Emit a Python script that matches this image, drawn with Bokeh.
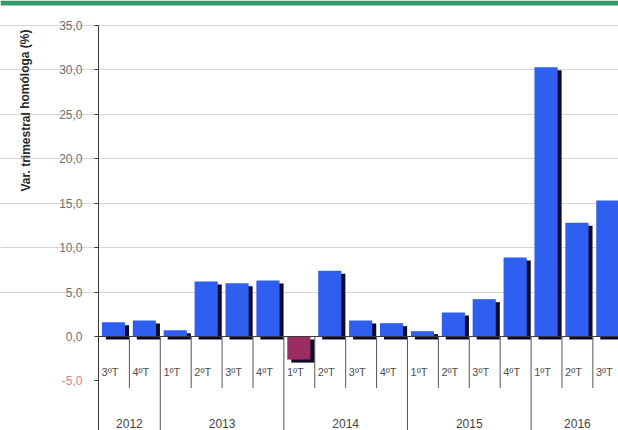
from bokeh.plotting import figure
from bokeh.models import Range1d, FixedTicker, ColumnDataSource, LinearAxis
from bokeh.core.properties import value
from bokeh.embed import file_html
from bokeh.resources import INLINE

# ---- data ----
quarters = ["3ºT", "4ºT", "1ºT", "2ºT", "3ºT", "4ºT", "1ºT", "2ºT", "3ºT", "4ºT",
            "1ºT", "2ºT", "3ºT", "4ºT", "1ºT", "2ºT", "3ºT"]
years = [2012, 2012, 2013, 2013, 2013, 2013, 2014, 2014, 2014, 2014,
         2015, 2015, 2015, 2015, 2016, 2016, 2016]
values = [1.6, 1.8, 0.7, 6.2, 6.0, 6.3, -2.6, 7.4, 1.8, 1.5,
          0.6, 2.7, 4.2, 8.9, 30.3, 12.8, 15.3]
y_ticks = [-5, 0, 5, 10, 15, 20, 25, 30, 35]
y_title = "Var. trimestral homóloga (%)"

# ---- layout constants ----
W, H = 618, 430
LEFT = 98                      # pixel position of the y axis inside the figure
Y_TOP, Y_BOT = 37.81, -10.58
X_END = 16.83
px_y = H / (Y_TOP - Y_BOT)            # pixels per y unit
px_x = (W - LEFT) / X_END             # pixels per category
X_START = -LEFT / px_x

BLUE = "#2f5ff0"
NEG = "#9b2d62"
SHADOW = "#0b0b2a"
FONT = "Liberation Sans"

p = figure(width=W, height=H, x_range=Range1d(X_START, X_END), y_range=Range1d(Y_BOT, Y_TOP),
           output_backend="svg", toolbar_location=None,
           min_border_left=0, min_border_right=0, min_border_top=0, min_border_bottom=0)
p.outline_line_color = None
p.background_fill_color = "white"
p.border_fill_color = "white"
p.xaxis.visible = False
p.xgrid.visible = False


def style_axis(ax, color):
    ax.major_label_text_font = FONT
    ax.major_label_text_font_size = "12px"
    ax.major_label_text_color = color
    ax.major_label_standoff = 12
    ax.major_tick_out = 4
    ax.major_tick_in = 0
    ax.minor_tick_out = 0
    ax.minor_tick_in = 0
    ax.axis_line_color = "#3a3a3a"
    ax.major_tick_line_color = "#3a3a3a"


pos_ticks = [t for t in y_ticks if t >= 0]
neg_ticks = [t for t in y_ticks if t < 0]

# main y axis (non-negative ticks), crossing at x = 0
yax = p.yaxis[0]
yax.ticker = FixedTicker(ticks=pos_ticks)
yax.bounds = (Y_BOT, 35)
yax.fixed_location = 0
yax.major_label_overrides = {t: f"{t:.1f}".replace(".", ",") for t in pos_ticks}
style_axis(yax, "#707070")

# negative tick labels in red, at the same place
nax = LinearAxis(ticker=FixedTicker(ticks=neg_ticks), fixed_location=0,
                 major_label_overrides={t: f"{t:.1f}".replace(".", ",") for t in neg_ticks})
style_axis(nax, "#e07a8a")
nax.axis_line_color = None
p.add_layout(nax, "left")

p.ygrid.ticker = FixedTicker(ticks=[t for t in y_ticks if t > 0])
p.ygrid.bounds = (0, X_END)
p.ygrid.grid_line_color = "#d6d6d6"
p.ygrid.grid_line_width = 1

# y title (rotated text, in the left margin of the frame)
p.text(x=[X_START + 25 / px_x], y=[Y_TOP - 110 / px_y], text=[y_title], angle=1.5708,
       text_align="center", text_baseline="middle", text_font=value(FONT),
       text_font_style="bold", text_font_size="12px", text_color="#2a2a2a")

# green banner at top
band = 5 / px_y
p.quad(left=[X_START], right=[X_END], bottom=[Y_TOP - band], top=[Y_TOP],
       fill_color="#339a64", line_color=None)

# bars
n = len(values)
xc = [i + 0.485 for i in range(n)]
dx = 4 / px_x
dy = 3 / px_y
src = ColumnDataSource(dict(
    x=xc,
    xs=[x + dx for x in xc],
    top=[max(v, 0) for v in values],
    bot=[min(v, 0) for v in values],
    stop=[max(v, 0) - dy for v in values],
    sbot=[min(v, 0) - dy for v in values],
    color=[BLUE if v >= 0 else NEG for v in values],
))
p.vbar(x="xs", top="stop", bottom="sbot", width=0.75, source=src,
       fill_color=SHADOW, line_color=None)
p.vbar(x="x", top="top", bottom="bot", width=0.75, source=src,
       fill_color="color", line_color=None)

# zero line
p.segment(x0=[0], x1=[X_END], y0=[0], y1=[0], line_color="#3a3a3a", line_width=1)

# category separators
q_sep_x = [i for i in range(1, n)]
year_bounds = [i for i in range(1, n) if years[i] != years[i - 1]]
qx = [i for i in q_sep_x if i not in year_bounds]
p.segment(x0=qx, x1=qx, y0=[0] * len(qx), y1=[-5.8] * len(qx),
          line_color="#555555", line_width=1)
p.segment(x0=year_bounds, x1=year_bounds, y0=[0] * len(year_bounds),
          y1=[Y_BOT] * len(year_bounds), line_color="#555555", line_width=1)

# quarter labels
p.text(x=[i + 0.1 for i in range(n)], y=[-4.0] * n, text=quarters,
       text_align="left", text_baseline="middle", text_font=value(FONT),
       text_font_size="11px", text_color="#505050")

# year labels
uy = []
for y in years:
    if y not in uy:
        uy.append(y)
yx = []
for y in uy:
    idx = [i for i, v in enumerate(years) if v == y]
    yx.append((idx[0] + idx[-1] + 1) / 2)
p.text(x=yx, y=[-9.8] * len(uy), text=[str(y) for y in uy],
       text_align="center", text_baseline="middle", text_font=value(FONT),
       text_font_size="12px", text_color="#444444")

open("out.html", "w").write(file_html(p, INLINE))
